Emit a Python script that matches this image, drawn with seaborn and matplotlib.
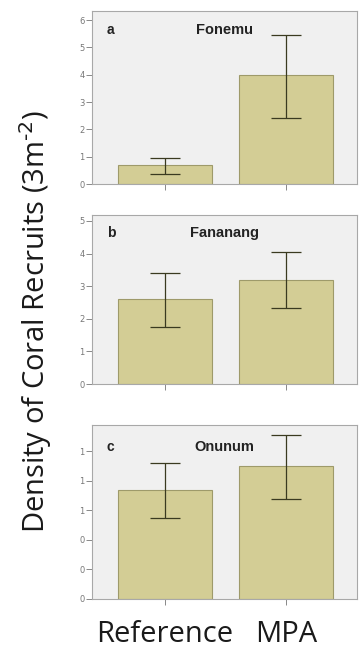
import matplotlib
matplotlib.use("Agg")
import matplotlib.pyplot as plt
import seaborn as sns
import pandas as pd

# Sites and treatments
sites = ["Fonemu", "Fananang", "Onunum"]
panel_letters = ["a", "b", "c"]
treatments = ["Reference", "MPA"]

# Mean recruit density per site (Reference, MPA)
mean_fonemu = [0.68, 3.98]
mean_fananang = [2.60, 3.18]
mean_onunum = [0.74, 0.90]

# Error bar bounds (lower, upper) per site
lower_fonemu = [0.38, 2.42]
upper_fonemu = [0.95, 5.45]
lower_fananang = [1.76, 2.33]
upper_fananang = [3.41, 4.05]
lower_onunum = [0.55, 0.68]
upper_onunum = [0.92, 1.11]

# Y axis ticks and labels per panel
ticks_fonemu = [0, 1, 2, 3, 4, 5, 6]
ticklabels_fonemu = ["0", "1", "2", "3", "4", "5", "6"]
ticks_fananang = [0, 1, 2, 3, 4, 5]
ticklabels_fananang = ["0", "1", "2", "3", "4", "5"]
ticks_onunum = [0, 0.2, 0.4, 0.6, 0.8, 1.0]
ticklabels_onunum = ["0", "0", "0", "1", "1", "1"]

ylims = [6.33, 5.18, 1.18]

means = [mean_fonemu, mean_fananang, mean_onunum]
lowers = [lower_fonemu, lower_fananang, lower_onunum]
uppers = [upper_fonemu, upper_fananang, upper_onunum]
ticks = [ticks_fonemu, ticks_fananang, ticks_onunum]
ticklabels = [ticklabels_fonemu, ticklabels_fananang, ticklabels_onunum]

sns.set_theme(style="white")
plt.rcParams["font.family"] = ["Open Sans", "DejaVu Sans"]

bar_color = "#D3CD95"
bar_edge = "#9E9A6A"
bg_color = "#F0F0F0"
frame_color = "#A8A8A8"
err_color = "#3A3A20"

fig = plt.figure(figsize=(3.6, 6.55), dpi=100)
# axes rectangles (left, bottom, width, height)
rects = [
    (0.256, 0.719, 0.736, 0.264),
    (0.256, 0.4137, 0.736, 0.258),
    (0.256, 0.0855, 0.736, 0.266),
]
# vertical position of the panel letter / site name inside each axes
label_y = [0.89, 0.895, 0.875]

for i, rect in enumerate(rects):
    ax = fig.add_axes(rect)
    df = pd.DataFrame({"treatment": treatments, "density": means[i]})
    sns.barplot(data=df, x="treatment", y="density", color=bar_color,
                saturation=1, width=0.78, edgecolor=bar_edge, linewidth=0.8,
                errorbar=None, ax=ax)
    m = means[i]
    yerr = [[m[k] - lowers[i][k] for k in range(2)],
            [uppers[i][k] - m[k] for k in range(2)]]
    ax.errorbar([0, 1], m, yerr=yerr, fmt="none", ecolor=err_color,
                elinewidth=0.9, capsize=11, capthick=0.9)
    ax.set_facecolor(bg_color)
    ax.set_xlim(-0.6, 1.59)
    ax.set_ylim(0, ylims[i])
    ax.set_yticks(ticks[i])
    ax.set_yticklabels(ticklabels[i], fontsize=6, color="#777777",
                       family="DejaVu Sans")
    ax.set_xlabel("")
    ax.set_ylabel("")
    for s in ax.spines.values():
        s.set_color(frame_color)
        s.set_linewidth(0.8)
    ax.tick_params(axis="both", which="both", direction="out", length=4,
                   width=0.7, color="#888888", left=True, bottom=True, pad=1.5)
    ax.text(0.055, label_y[i], panel_letters[i], transform=ax.transAxes,
            fontsize=10, fontweight="bold", ha="left", va="center",
            family="Liberation Sans", color="#222222")
    ax.text(0.5, label_y[i], sites[i], transform=ax.transAxes,
            fontsize=10.5, fontweight="bold", ha="center", va="center",
            family="Liberation Sans", color="#222222")
    if i < 2:
        ax.set_xticklabels(["", ""])
    else:
        ax.set_xticklabels(treatments, fontsize=21, color="#1A1A1A")
        ax.tick_params(axis="x", pad=11)

fig.text(0.098, 0.51, "Density of Coral Recruits (3m$^{\\text{-}2}$)",
         rotation=90, ha="center", va="center", fontsize=21, color="#1A1A1A")

fig.savefig("out.png", dpi=100, facecolor="white")
